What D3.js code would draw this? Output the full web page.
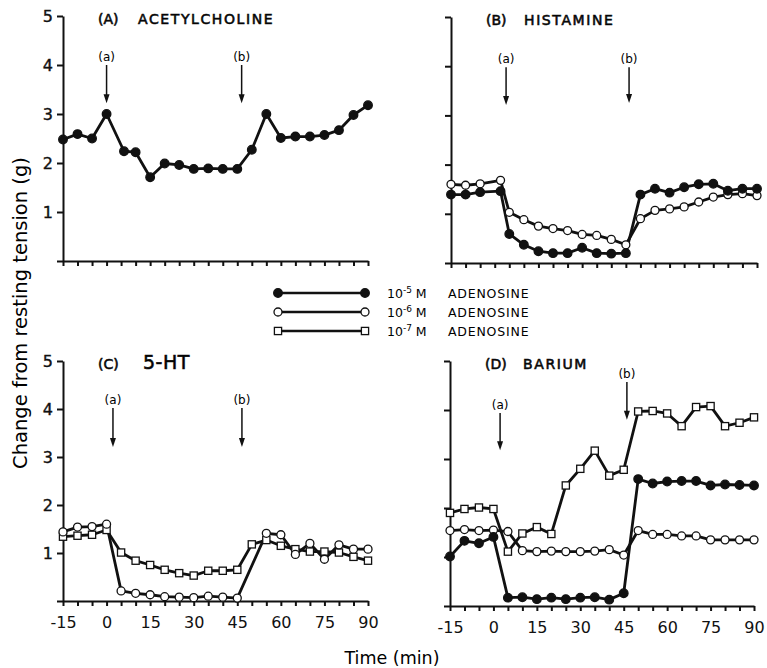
<!DOCTYPE html>
<html>
<head>
<meta charset="utf-8">
<script src="https://cdn.jsdelivr.net/npm/d3@7"></script>
<style>
body { margin: 0; background: #fff; }
svg { font-family: "DejaVu Sans", sans-serif; }
.axis path, .axis line { stroke: #111; stroke-width: 2; }
.axis text { fill: #111; }
</style>
</head>
<body>
<div id="chart"></div>
<script>
// Setting up the data
const TIME = [-15, -10, -5, 0, 5, 10, 15, 20, 25, 30, 35, 40, 45, 50, 55, 60, 65, 70, 75, 80, 85, 90];
const TIME_A = [-15, -10, -5, 0, 6, 10, 15, 20, 25, 30, 35, 40, 45, 50, 55, 60, 65, 70, 75, 80, 85, 90];
const TIME_B = [-15, -10, -5, 2, 5, 10, 15, 20, 25, 30, 35, 40, 45, 50, 55, 60, 65, 70, 75, 80, 85, 90];
const TIME_C_NO50 = [-15, -10, -5, 0, 5, 10, 15, 20, 25, 30, 35, 40, 45, 55, 60, 65, 70, 75, 80, 85, 90];
const TIME_LABELS = [-15, 0, 15, 30, 45, 60, 75, 90];
const Y_TICKS = [0, 1, 2, 3, 4, 5];

// (A) acetylcholine, 10^-5 M
const A_1E5 = [2.48, 2.59, 2.50, 3.00, 2.24, 2.22, 1.71, 1.99, 1.96, 1.88, 1.89, 1.88, 1.88, 2.27, 3.00, 2.51, 2.54, 2.54, 2.57, 2.67, 2.98, 3.18];
// (B) histamine
const B_1E5 = [1.39, 1.39, 1.44, 1.46, 0.59, 0.37, 0.24, 0.20, 0.20, 0.31, 0.20, 0.19, 0.20, 1.39, 1.51, 1.43, 1.54, 1.60, 1.61, 1.47, 1.51, 1.51];
const B_1E6 = [1.60, 1.58, 1.61, 1.68, 1.03, 0.88, 0.75, 0.70, 0.66, 0.58, 0.56, 0.48, 0.37, 0.90, 1.07, 1.10, 1.14, 1.24, 1.34, 1.39, 1.41, 1.37];
// (C) 5-HT
const C_1E6 = [1.44, 1.54, 1.55, 1.60, 0.21, 0.16, 0.13, 0.09, 0.08, 0.07, 0.10, 0.08, 0.06, 1.41, 1.38, 0.97, 1.20, 0.87, 1.17, 1.08, 1.08];
const C_1E7 = [1.34, 1.36, 1.38, 1.48, 1.01, 0.84, 0.75, 0.65, 0.58, 0.53, 0.63, 0.63, 0.65, 1.18, 1.27, 1.15, 1.08, 1.03, 1.03, 1.01, 0.92, 0.84];
// (D) barium
const D_1E5 = [1.01, 1.33, 1.28, 1.41, 0.17, 0.18, 0.14, 0.17, 0.14, 0.17, 0.18, 0.13, 0.26, 2.59, 2.50, 2.54, 2.55, 2.55, 2.46, 2.48, 2.47, 2.46];
const D_1E6 = [1.54, 1.56, 1.54, 1.55, 1.52, 1.13, 1.11, 1.12, 1.11, 1.11, 1.12, 1.15, 1.04, 1.54, 1.46, 1.46, 1.43, 1.43, 1.35, 1.35, 1.35, 1.35];
const D_1E7 = [1.90, 1.98, 2.01, 1.98, 1.11, 1.48, 1.61, 1.47, 2.46, 2.80, 3.17, 2.66, 2.78, 3.97, 3.98, 3.93, 3.67, 4.06, 4.08, 3.67, 3.74, 3.85];

// arrows: [label, time, top value, tip value]
const A_ARROWS = [["(a)", 0, 4.0, 3.22], ["(b)", 46.5, 4.0, 3.22]];
const B_ARROWS = [["(a)", 3.9, 3.98, 3.21], ["(b)", 46.1, 3.98, 3.25]];
const C_ARROWS = [["(a)", 2.2, 4.02, 3.21], ["(b)", 46.6, 4.02, 3.21]];
const D_ARROWS = [["(a)", 2.3, 3.94, 3.18], ["(b)", 46.1, 4.57, 3.80]];

const LEGEND = [["filled", "-5"], ["open", "-6"], ["square", "-7"]];

// frame
const FRAME_WIDTH = 767;
const FRAME_HEIGHT = 668;

const FRAME = d3.select("#chart")
  .append("svg")
    .attr("width", FRAME_WIDTH)
    .attr("height", FRAME_HEIGHT);

const PANELS = [
  {box: {left: 63, right: 368, top: 16, bottom: 261}, tag: "(A)", name: "ACETYLCHOLINE", nameSize: 14, nameDx: 40, yLabels: true, xLabels: false,
   arrows: A_ARROWS, series: [[TIME_A, A_1E5, "filled"]]},
  {box: {left: 451, right: 757, top: 17, bottom: 263}, tag: "(B)", name: "HISTAMINE", nameSize: 14, nameDx: 38, yLabels: false, xLabels: false,
   arrows: B_ARROWS, series: [[TIME_B, B_1E6, "open"], [TIME_B, B_1E5, "filled"]]},
  {box: {left: 63, right: 368, top: 361, bottom: 601}, tag: "(C)", name: "5-HT", nameSize: 19, nameDx: 45, yLabels: true, xLabels: true,
   arrows: C_ARROWS, series: [[TIME, C_1E7, "square"], [TIME_C_NO50, C_1E6, "open"]]},
  {box: {left: 450, right: 754, top: 361, bottom: 606}, tag: "(D)", name: "BARIUM", nameSize: 14, nameDx: 38, yLabels: false, xLabels: true,
   arrows: D_ARROWS, series: [[TIME, D_1E7, "square"], [TIME, D_1E6, "open"], [TIME, D_1E5, "filled"]]}
];

function drawMarker(g, cx, cy, type) {
  if (type === "square") {
    g.append("rect")
      .attr("x", cx - 3.6).attr("y", cy - 3.6)
      .attr("width", 7.2).attr("height", 7.2)
      .attr("fill", "#fff").attr("stroke", "#111").attr("stroke-width", 1.3);
  } else {
    g.append("circle")
      .attr("cx", cx).attr("cy", cy).attr("r", type === "filled" ? 4.3 : 4)
      .attr("fill", type === "filled" ? "#111" : "#fff")
      .attr("stroke", "#111").attr("stroke-width", 1.3);
  }
}

function drawArrow(g, x, y1, y2) {
  g.append("line")
    .attr("x1", x).attr("x2", x).attr("y1", y1).attr("y2", y2 - 4)
    .attr("stroke", "#111").attr("stroke-width", 1.5);
  g.append("path")
    .attr("d", `M${x - 3},${y2 - 9} L${x},${y2} L${x + 3},${y2 - 9} Z`)
    .attr("fill", "#111");
}

PANELS.forEach(p => {
  const X_SCALE = d3.scaleLinear().domain([-15, 90]).range([p.box.left, p.box.right]);
  const Y_SCALE = d3.scaleLinear().domain([0, 5]).range([p.box.bottom, p.box.top]);

  // x-axis
  FRAME.append("g")
    .attr("class", "axis")
    .attr("transform", "translate(0," + p.box.bottom + ")")
    .call(d3.axisBottom(X_SCALE)
      .tickValues(TIME)
      .tickSize(5)
      .tickSizeOuter(0)
      .tickPadding(11)
      .tickFormat(d => (p.xLabels && TIME_LABELS.includes(d)) ? String(d) : ""))
    .selectAll("text")
      .attr("font-size", 16)
      .attr("font-family", "DejaVu Sans");

  // y-axis
  FRAME.append("g")
    .attr("class", "axis")
    .attr("transform", "translate(" + p.box.left + ",0)")
    .call(d3.axisLeft(Y_SCALE)
      .tickValues(Y_TICKS)
      .tickSize(6)
      .tickSizeOuter(0)
      .tickPadding(4)
      .tickFormat(d => (p.yLabels && d > 0) ? String(d) : ""))
    .selectAll("text")
      .attr("font-size", 16)
      .attr("font-family", "DejaVu Sans")
      .attr("stroke", "#111").attr("stroke-width", 0.4);

  // panel title
  FRAME.append("text")
    .attr("x", p.box.left + 35).attr("y", p.box.top + 8)
    .attr("font-size", 14)
    .attr("stroke", "#111").attr("stroke-width", 0.6)
    .text(p.tag);
  FRAME.append("text")
    .attr("x", p.box.left + 35 + p.nameDx).attr("y", p.box.top + 8)
    .attr("font-size", p.nameSize)
    .attr("stroke", "#111").attr("stroke-width", 0.6)
    .attr("letter-spacing", p.nameSize > 15 ? 0.5 : 1.6)
    .text(p.name);

  // arrows
  p.arrows.forEach(a => {
    const ax = X_SCALE(a[1]);
    FRAME.append("text")
      .attr("x", ax).attr("y", Y_SCALE(a[2]) - 4)
      .attr("text-anchor", "middle").attr("font-size", 12)
      .text(a[0]);
    drawArrow(FRAME, ax, Y_SCALE(a[2]), Y_SCALE(a[3]));
  });

  // lines first, then markers
  const line = d3.line().x(d => X_SCALE(d[0])).y(d => Y_SCALE(d[1]));
  p.series.forEach(s => {
    const pts = s[0].map((t, i) => [t, s[1][i]]);
    FRAME.append("path")
      .attr("d", line(pts))
      .attr("fill", "none").attr("stroke", "#111").attr("stroke-width", 2.8)
      .attr("stroke-linejoin", "round");
  });
  p.series.forEach(s => {
    s[0].forEach((t, i) => drawMarker(FRAME, X_SCALE(t), Y_SCALE(s[1][i]), s[2]));
  });
});

// legend
LEGEND.forEach((l, i) => {
  const ly = 293 + i * 19;
  FRAME.append("line")
    .attr("x1", 278).attr("x2", 365).attr("y1", ly).attr("y2", ly)
    .attr("stroke", "#111").attr("stroke-width", 2.6);
  drawMarker(FRAME, 278, ly, l[0]);
  drawMarker(FRAME, 365, ly, l[0]);
  const t = FRAME.append("text")
    .attr("x", 387).attr("y", ly + 5).attr("font-size", 12.5);
  t.append("tspan").text("10");
  t.append("tspan").attr("font-size", 9).attr("dy", -5).text(l[1]);
  t.append("tspan").attr("dy", 5).text(" M");
  FRAME.append("text")
    .attr("x", 448).attr("y", ly + 5).attr("font-size", 12.5)
    .attr("letter-spacing", 0.8)
    .text("ADENOSINE");
});

// axis titles
FRAME.append("text")
  .attr("transform", "translate(27,313) rotate(-90)")
  .attr("text-anchor", "middle")
  .attr("font-size", 19.5)
  .text("Change from resting tension (g)");

FRAME.append("text")
  .attr("x", 392).attr("y", 664)
  .attr("text-anchor", "middle")
  .attr("font-size", 17.5)
  .text("Time (min)");
</script>
</body>
</html>
